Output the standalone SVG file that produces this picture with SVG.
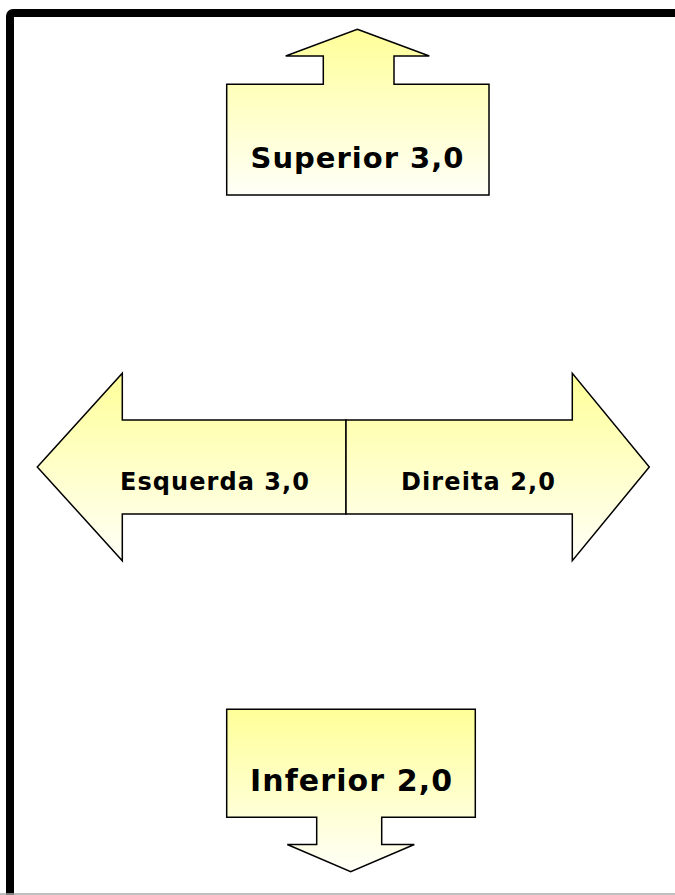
<svg xmlns="http://www.w3.org/2000/svg" width="675" height="895" viewBox="0 0 675 895">
<defs>
<linearGradient id="yg" x1="0" y1="0" x2="0" y2="1">
<stop offset="0" stop-color="#FFFF99"/>
<stop offset="1" stop-color="#FFFFF8"/>
</linearGradient>
<style>
.shape{fill:url(#yg);stroke:#000;stroke-width:1.5;stroke-linejoin:miter}
.lbl{font-family:"DejaVu Sans",Verdana,sans-serif;font-weight:bold;fill:#000;text-anchor:middle}
</style>
</defs>
<rect width="675" height="895" fill="#fff"/>
<rect x="10" y="13" width="700" height="920" rx="3" fill="none" stroke="#000" stroke-width="8"/>
<line x1="0" y1="894" x2="675" y2="894" stroke="#aaa" stroke-width="1.5"/>
<g id="superior">
<path class="shape" d="M357.3,29.3 L429.3,56 L394,56 L394,84.3 L489,84.3 L489,195 L226.7,195 L226.7,84.3 L323.3,84.3 L323.3,56 L285.7,56 Z"/>
<text class="lbl" x="357" y="168" font-size="29" textLength="213" lengthAdjust="spacing">Superior 3,0</text>
</g>
<g id="esquerda">
<path class="shape" d="M346,420 L122.3,420 L122.3,373.3 L37.3,467 L122.3,560.7 L122.3,514 L346,514 Z"/>
<text class="lbl" x="214.5" y="490" font-size="24" textLength="189" lengthAdjust="spacing">Esquerda 3,0</text>
</g>
<g id="direita">
<path class="shape" d="M346,420 L572.3,420 L572.3,373.3 L649.3,467 L572.3,560.7 L572.3,514 L346,514 Z"/>
<text class="lbl" x="478" y="490" font-size="24" textLength="154" lengthAdjust="spacing">Direita 2,0</text>
</g>
<g id="inferior">
<path class="shape" d="M226.7,709.3 L475.3,709.3 L475.3,817.3 L381.7,817.3 L381.7,844.5 L414.3,844.5 L350.7,871.7 L287.3,844.5 L316.7,844.5 L316.7,817.3 L226.7,817.3 Z"/>
<text class="lbl" x="351" y="791" font-size="30" textLength="202" lengthAdjust="spacing">Inferior 2,0</text>
</g>
<g id="connectors"></g>
</svg>
